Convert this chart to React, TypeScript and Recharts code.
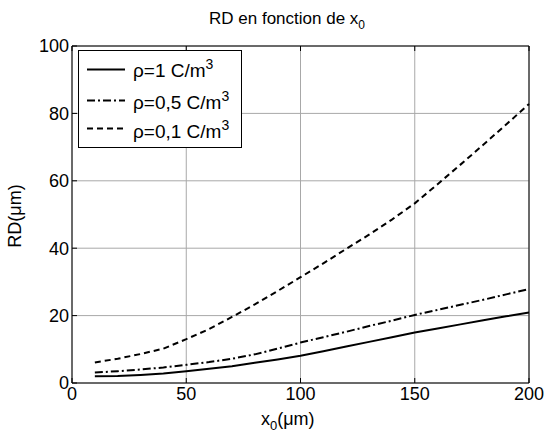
import { CartesianGrid, Legend, Line, LineChart, XAxis, YAxis } from 'recharts';

const X_UM = [10, 20, 30, 40, 50, 60, 70, 80, 90, 100, 110, 120, 130, 140, 150, 160, 170, 180, 190, 200];
const RHO_1 = [2.0, 2.1, 2.4, 2.8, 3.5, 4.2, 5.0, 6.0, 7.0, 8.1, 9.4, 10.8, 12.2, 13.6, 15.0, 16.2, 17.4, 18.6, 19.8, 20.9];
const RHO_05 = [3.1, 3.5, 4.0, 4.6, 5.4, 6.2, 7.2, 8.5, 10.2, 12.0, 13.6, 15.2, 16.9, 18.5, 20.2, 21.7, 23.2, 24.7, 26.3, 27.9];
const RHO_01 = [6.1, 7.2, 8.6, 10.2, 13.0, 16.0, 19.6, 23.3, 27.3, 31.4, 35.5, 39.8, 44.0, 48.5, 53.3, 59.0, 64.8, 70.7, 76.7, 82.8];

const X_TICKS = [0, 50, 100, 150, 200];
const Y_TICKS = [0, 20, 40, 60, 80, 100];

const SERIES = [
    { key: 'r1', label: '1', dash: undefined },
    { key: 'r05', label: '0,5', dash: '8 3 2 3' },
    { key: 'r01', label: '0,1', dash: '6 4' },
] as const;

const data = X_UM.map((x, i) => ({ x, r1: RHO_1[i], r05: RHO_05[i], r01: RHO_01[i] }));

const FONT = '"Liberation Sans", Arial, sans-serif';
const tick = { fontSize: 18, fill: '#000', fontFamily: FONT };
const blank = () => '';

function LegendBox() {
    return (
        <svg width={164} height={98} style={{ display: 'block' }}>
            <rect x={0.5} y={0.5} width={163} height={97} fill="#fff" stroke="#000" />
            {SERIES.map((s, i) => {
                const ly = [19.5, 50.5, 78.5][i];
                const by = [27, 59, 88][i];
                return (
                    <g key={s.key}>
                        <line x1={9} x2={47} y1={ly} y2={ly} stroke="#000" strokeWidth={2} strokeDasharray={s.dash} />
                        <text x={55} y={by} fontSize={19} fontFamily={FONT} fill="#000">
                            ρ={s.label} C/m
                            <tspan dy={-8} fontSize={14}>3</tspan>
                        </text>
                    </g>
                );
            })}
        </svg>
    );
}

export default function App() {
    return (
        <div style={{ position: 'absolute', left: 0, top: 0, background: '#fff' }}>
            <LineChart width={547} height={438} data={data} margin={{ top: 16, right: 8, bottom: 15, left: 0 }}>
                <CartesianGrid stroke="#a8a8a8" strokeWidth={1} horizontalValues={Y_TICKS} verticalValues={X_TICKS} />
                <XAxis
                    dataKey="x"
                    type="number"
                    domain={[0, 200]}
                    ticks={X_TICKS}
                    height={40}
                    stroke="#000"
                    tick={tick}
                    tickSize={-5}
                    tickMargin={9}
                    label={{
                        content: () => (
                            <text x={261} y={425} fontSize={18} fontFamily={FONT} fill="#000">
                                x<tspan dy={5} fontSize={13}>0</tspan>
                                <tspan dy={-5}>(μm)</tspan>
                            </text>
                        ),
                    }}
                />
                <XAxis
                    xAxisId="top"
                    orientation="top"
                    dataKey="x"
                    type="number"
                    domain={[0, 200]}
                    ticks={X_TICKS}
                    height={30}
                    stroke="#000"
                    tickFormatter={blank}
                    tickSize={-5}
                    label={{
                        content: () => (
                            <text x={209} y={24} fontSize={17} fontFamily={FONT} fill="#000">
                                RD en fonction de x<tspan dy={5} fontSize={12}>0</tspan>
                            </text>
                        ),
                    }}
                />
                <YAxis
                    type="number"
                    domain={[0, 100]}
                    ticks={Y_TICKS}
                    width={72}
                    stroke="#000"
                    tick={tick}
                    tickSize={-5}
                    tickMargin={8}
                    label={{
                        content: () => (
                            <text
                                x={21}
                                y={216}
                                transform="rotate(-90 21 216)"
                                textAnchor="middle"
                                fontSize={18}
                                fontFamily={FONT}
                                fill="#000"
                            >
                                RD(μm)
                            </text>
                        ),
                    }}
                />
                <YAxis
                    yAxisId="right"
                    orientation="right"
                    type="number"
                    domain={[0, 100]}
                    ticks={Y_TICKS}
                    width={10}
                    stroke="#000"
                    tickFormatter={blank}
                    tickSize={-5}
                />
                <Legend
                    layout="horizontal"
                    verticalAlign="middle"
                    align="center"
                    content={() => <LegendBox />}
                    wrapperStyle={{ position: 'absolute', left: 78, top: 50, width: 164, height: 98 }}
                />
                {SERIES.map((s) => (
                    <Line
                        key={s.key}
                        dataKey={s.key}
                        type="linear"
                        stroke="#000"
                        strokeWidth={2}
                        strokeDasharray={s.dash}
                        dot={false}
                        activeDot={false}
                        isAnimationActive={false}
                    />
                ))}
            </LineChart>
        </div>
    );
}
